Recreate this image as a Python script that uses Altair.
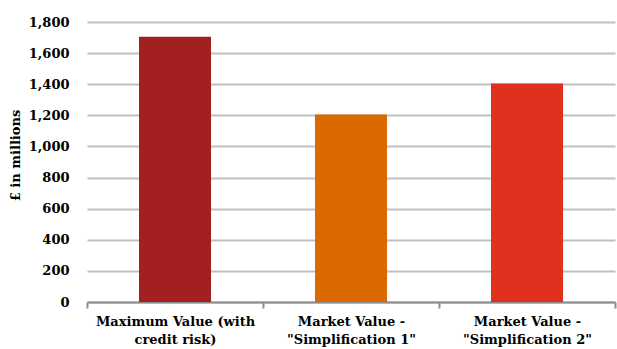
import altair as alt
import pandas as pd

categories = ["Maximum Value (with\ncredit risk)", "Market Value -\n\"Simplification 1\"", "Market Value -\n\"Simplification 2\""]
values = [1705, 1205, 1405]
colors = ["#A32020", "#DC6900", "#E0301E"]

df = pd.DataFrame({"cat": categories, "val": values, "color": colors})

FONT = "DejaVu Serif"

chart = alt.Chart(df).mark_bar(size=72).encode(
    x=alt.X("cat:N", sort=categories, title=None,
            scale=alt.Scale(paddingInner=0, paddingOuter=0),
            axis=alt.Axis(labelAngle=0, labelExpr="split(datum.label, '\\n')",
                          tickBand="extent", domainColor="#8C8C8C", domainWidth=2,
                          tickColor="#8C8C8C", tickWidth=2, tickSize=6,
                          labelFont=FONT, labelFontWeight="bold", labelFontSize=13,
                          labelColor="#000000", labelPadding=7, labelLineHeight=18)),
    y=alt.Y("val:Q", title="£ in millions",
            scale=alt.Scale(domain=[0, 1800]),
            axis=alt.Axis(values=list(range(0, 1801, 200)), format=",d", domain=False,
                          ticks=False, labelPadding=18, gridColor="#C0C0C0", gridWidth=2,
                          labelFont=FONT, labelFontWeight="bold", labelFontSize=13,
                          labelColor="#000000", titleFont=FONT, titleFontSize=13,
                          titleFontWeight="bold", titleColor="#000000",
                          titleX=-72, titleY=133, titleBaseline="middle")),
    color=alt.Color("color:N", scale=None, legend=None),
).properties(
    width=528, height=280,
    autosize=alt.AutoSizeParams(type="none"),
    padding={"left": 87, "top": 22, "right": 2, "bottom": 47},
).configure_view(stroke=None).configure_axisY(gridDash=[])

chart.save("out.html", embed_options={"renderer": "svg", "actions": False})
